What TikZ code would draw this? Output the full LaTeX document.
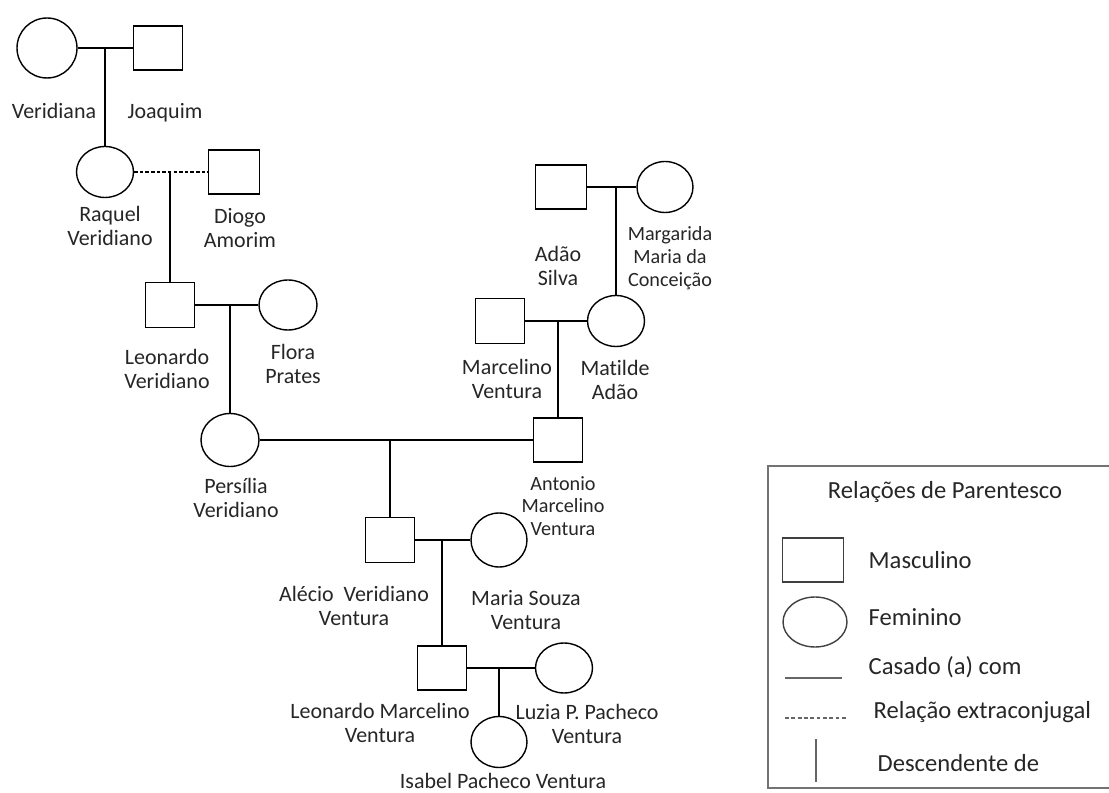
\documentclass[tikz,border=0pt]{standalone}
\usepackage{fontspec}
\setmainfont{Carlito}[Ligatures=NoCommon]
\usetikzlibrary{shapes.geometric, positioning, calc}

\begin{document}
\begin{tikzpicture}[x=0.02cm, y=-0.02cm, line width=0.8pt,
  male/.style={draw, rectangle, inner sep=0pt, minimum width=0.98cm, minimum height=0.88cm},
  female/.style={draw, ellipse, inner sep=0pt, minimum width=1.14cm, minimum height=1.02cm},
  pname/.style={align=center, text=black!85, inner sep=0pt, font=\fontsize{12.5}{13.6}\selectfont},
  smallpname/.style={pname, font=\fontsize{11.5}{13}\selectfont},
  legtext/.style={anchor=west, inner sep=0pt, text=black!85, font=\fontsize{14}{16}\selectfont},
  legline/.style={draw=black!60, line width=0.7pt},
  extra/.style={dash pattern=on 2pt off 1.2pt, line width=0.6pt}]
\useasboundingbox (0,0) rectangle (1109,793);

% pessoas
\node[female, minimum width=1.2cm, minimum height=1.2cm] (veridiana) at (47,48) {};
\node[male] (joaquim) at (158,48) {};
\node[female] (raquel) at (105,172) {};
\node[male, minimum width=1.02cm] (diogo) at (234,172) {};
\node[male, minimum height=0.9cm] (leonardo) at (170,305) {};
\node[female, minimum width=1.16cm, minimum height=1cm] (flora) at (288,305) {};
\node[female, minimum width=1.16cm, minimum height=1.06cm] (persilia) at (230,440) {};
\node[male, minimum width=1.02cm] (adao) at (561,187) {};
\node[female, minimum width=1.12cm] (margarida) at (665,187) {};
\node[male, minimum height=0.9cm] (marcelino) at (500,321) {};
\node[female] (matilde) at (616,321) {};
\node[male] (antonio) at (558,440) {};
\node[male, minimum height=0.9cm] (alecio) at (390,540) {};
\node[female, minimum width=1.12cm, minimum height=1.08cm] (maria) at (499,540) {};
\node[male] (leonardom) at (442,668) {};
\node[female, minimum height=1cm] (luzia) at (564,668) {};
\node[female, minimum width=1.12cm] (isabel) at (499,742) {};

% nomes
\node[pname, anchor=base] (n-veridiana) at (54,119) {Veridiana};
\node[pname, anchor=base] (n-joaquim) at (165,119) {Joaquim};
\node[pname] (n-raquel) at (110,226) {Raquel\\Veridiano};
\node[pname] (n-diogo) at (240,228) {Diogo\\Amorim};
\node[pname] (n-leonardo) at (167,369) {Leonardo\\Veridiano};
\node[pname] (n-flora) at (293,364) {Flora\\Prates};
\node[pname] (n-persilia) at (236,498) {Persília\\Veridiano};
\node[pname] (n-adao) at (558,266) {Adão\\Silva};
\node[smallpname] (n-margarida) at (670,258) {Margarida\\Maria da\\Conceição};
\node[pname] (n-marcelino) at (507,379) {Marcelino\\Ventura};
\node[pname] (n-matilde) at (615,380) {Matilde\\Adão};
\node[smallpname] (n-antonio) at (563,506) {Antonio\\Marcelino\\Ventura};
\node[pname] (n-alecio) at (354,606) {Alécio~ Veridiano\\Ventura};
\node[pname] (n-maria) at (526,610) {Maria Souza\\Ventura};
\node[pname] (n-leonardom) at (380,723) {Leonardo Marcelino\\Ventura};
\node[pname] (n-luzia) at (587,724) {Luzia P. Pacheco\\Ventura};
\node[pname, anchor=base] (n-isabel) at (503,788) {Isabel Pacheco Ventura};

% casamentos e descendencia
\draw (veridiana) -- (joaquim);
\coordinate (d1) at (raquel |- veridiana.east);
\draw (d1) -- (raquel.north);
\draw[extra] (raquel) -- (diogo);
\coordinate (d2) at (leonardo |- raquel.east);
\draw (d2) -- (leonardo.north);
\draw (leonardo) -- (flora);
\coordinate (d3) at (persilia |- leonardo.east);
\draw (d3) -- (persilia.north);
\draw (adao) -- (margarida);
\coordinate (d4) at (matilde |- adao.east);
\draw (d4) -- (matilde.north);
\draw (marcelino) -- (matilde);
\coordinate (d5) at (antonio |- marcelino.east);
\draw (d5) -- (antonio.north);
\draw (persilia) -- (antonio);
\coordinate (d6) at (alecio |- persilia.east);
\draw (d6) -- (alecio.north);
\draw (alecio) -- (maria);
\coordinate (d7) at (leonardom |- alecio.east);
\draw (d7) -- (leonardom.north);
\draw (leonardom) -- (luzia);
\coordinate (d8) at (isabel |- leonardom.east);
\draw (d8) -- (isabel.north);

% legenda
\draw[draw=black!55, line width=1pt] (1109,466) -- (768,466) -- (768,788) -- (1109,788);
\node[pname, font=\fontsize{14}{16}\selectfont] (leg-title) at (945,492) {Relações de Parentesco};
\node[male, draw=black!75, minimum width=1.22cm] (leg-male) at (813,560) {};
\node[legtext] (leg-masc) at (868,560) {Masculino};
\node[female, draw=black!75, minimum width=1.28cm, minimum height=1cm] (leg-female) at (815,622) {};
\node[legtext] (leg-fem) at (868,617) {Feminino};
\coordinate (ls1) at (785,678);
\coordinate (ls2) at (842,678);
\draw[legline] (ls1) -- (ls2);
\node[legtext] (leg-cas) at (868,667) {Casado (a) com};
\coordinate (le1) at (785,718);
\coordinate (le2) at (847,718);
\draw[legline, dash pattern=on 2.2pt off 1.4pt] (le1) -- (le2);
\node[legtext] (leg-ext) at (873,712) {Relação extraconjugal};
\coordinate (lv1) at (816,739);
\coordinate (lv2) at (816,782);
\draw[legline] (lv1) -- (lv2);
\node[legtext] (leg-desc) at (877,763) {Descendente de};
\end{tikzpicture}
\end{document}
